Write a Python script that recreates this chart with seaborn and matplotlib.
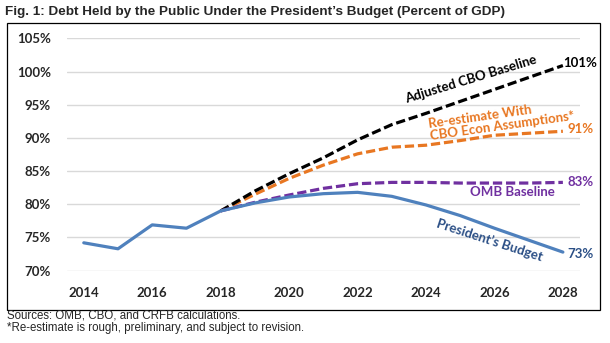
import matplotlib
matplotlib.use("Agg")
import matplotlib.pyplot as plt
import seaborn as sns
import pandas as pd
from matplotlib.patches import Rectangle

# ---- data ----
years_hist = [2014, 2015, 2016, 2017, 2018, 2019, 2020, 2021, 2022, 2023, 2024, 2025, 2026, 2027, 2028]
presidents_budget = [74.2, 73.3, 76.9, 76.4, 79.0, 80.2, 81.1, 81.6, 81.8, 81.2, 79.9, 78.3, 76.4, 74.6, 72.8]

years_proj = [2018, 2019, 2020, 2021, 2022, 2023, 2024, 2025, 2026, 2027, 2028]
omb_baseline = [79.0, 80.3, 81.4, 82.4, 83.1, 83.3, 83.3, 83.2, 83.2, 83.2, 83.3]
reestimate_cbo_econ = [79.0, 81.5, 83.9, 85.9, 87.6, 88.6, 88.9, 89.6, 90.4, 90.7, 91.0]
adjusted_cbo = [79.0, 82.0, 84.6, 87.0, 89.7, 92.0, 93.7, 95.5, 97.3, 99.1, 100.9]

x_ticks = [2014, 2016, 2018, 2020, 2022, 2024, 2026, 2028]
y_ticks = [70, 75, 80, 85, 90, 95, 100, 105]
y_tick_labels = ["70%", "75%", "80%", "85%", "90%", "95%", "100%", "105%"]

title = "Fig. 1: Debt Held by the Public Under the President\u2019s Budget (Percent of GDP)"
footnotes = ["Sources: OMB, CBO, and CRFB calculations.",
             "*Re-estimate is rough, preliminary, and subject to revision."]

BLUE = "#4F81BD"
BLUE_TXT = "#2B4F86"
ORANGE = "#E87722"
PURPLE = "#7030A0"
BLACK = "#000000"

sns.set_style("white")
plt.rcParams["font.family"] = ["Lato", "DejaVu Sans"]

fig = plt.figure(figsize=(6.1, 3.43), dpi=100)
ax = fig.add_axes([0.1093, 0.2108, 0.8415, 0.6775])

dash = (0, (2.9, 1.2))
sns.lineplot(x=years_proj, y=reestimate_cbo_econ, ax=ax, color=ORANGE, linewidth=2.3, linestyle=dash)
sns.lineplot(x=years_proj, y=adjusted_cbo, ax=ax, color=BLACK, linewidth=2.3, linestyle=dash)
sns.lineplot(x=years_proj, y=omb_baseline, ax=ax, color=PURPLE, linewidth=2.3, linestyle=dash)
sns.lineplot(x=years_hist, y=presidents_budget, ax=ax, color=BLUE, linewidth=2.3)

ax.set_xlim(2013.5, 2028.5)
ax.set_ylim(70, 105)
ax.set_yticks(y_ticks)
ax.set_yticklabels(y_tick_labels)
ax.set_xticks(x_ticks)
ax.set_xticklabels([str(y) for y in x_ticks])
ax.grid(axis="y", color="#D9D9D9", linewidth=1)
ax.grid(axis="x", visible=False)
for s in ax.spines.values():
    s.set_visible(False)
ax.tick_params(axis="both", length=0, labelsize=9.5)
ax.tick_params(axis="y", pad=11.5)
ax.tick_params(axis="x", pad=12)
for lab in ax.get_xticklabels() + ax.get_yticklabels():
    lab.set_fontweight("bold")
ax.set_xlabel("")
ax.set_ylabel("")
ax.set_axisbelow(True)

# end labels
def end_label(val, txt, color, off):
    ax.annotate(txt, xy=(2028, val), xytext=(off, 0), textcoords="offset points",
                ha="left", va="center", fontsize=9.5, fontweight="bold", color=color,
                annotation_clip=False)

end_label(101.3, "101%", BLACK, 0)
end_label(91.4, "91%", ORANGE, 3.5)
end_label(83.3, "83%", PURPLE, 3.5)
end_label(72.5, "73%", BLUE_TXT, 3.5)

ax.text(2025.31, 98.9, "Adjusted CBO Baseline", rotation=17, ha="center", va="center",
        fontsize=9.5, fontweight="bold", color=BLACK, rotation_mode="anchor")
ax.text(2026.2, 92.7, "Re-estimate With\nCBO Econ Assumptions*", rotation=8, ha="center", va="center",
        multialignment="left", fontsize=9.5, fontweight="bold", color=ORANGE,
        rotation_mode="anchor", linespacing=0.95)
ax.text(2026.52, 81.85, "OMB Baseline", ha="center", va="center",
        fontsize=9.5, fontweight="bold", color=PURPLE)
ax.text(2025.86, 74.6, "President\u2019s Budget", rotation=-18, ha="center", va="center",
        fontsize=9.5, fontweight="bold", color=BLUE_TXT, rotation_mode="anchor")

# border box
fig.patches.append(Rectangle((0.011, 0.0953), 0.9726, 0.8385, transform=fig.transFigure,
                             fill=False, edgecolor="black", linewidth=0.9))

fig.text(0.008, 0.965, title, ha="left", va="center", fontsize=9.7, fontweight="bold",
         family=["Liberation Sans", "DejaVu Sans"])
fig.text(0.011, 0.0796, footnotes[0], ha="left", va="center", fontsize=8.3,
         family=["Liberation Sans", "DejaVu Sans"])
fig.text(0.011, 0.0437, footnotes[1], ha="left", va="center", fontsize=8.3,
         family=["Liberation Sans", "DejaVu Sans"])

fig.savefig("out.png", dpi=100)
